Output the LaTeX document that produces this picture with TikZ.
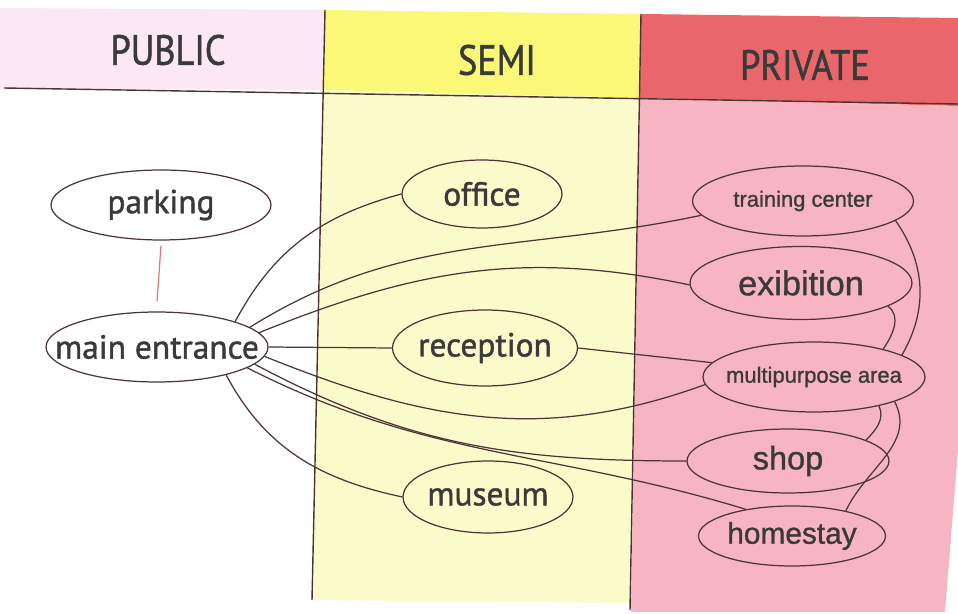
\documentclass[tikz,border=0pt]{standalone}
\usepackage{fontspec}
\setmainfont{PT Sans}[FakeBold=1.3]
\newfontfamily\privfont{Liberation Sans}[FakeBold=1.1]
\newfontfamily\headfont{PT Sans}[FakeStretch=0.86, FakeBold=1.2]
\usetikzlibrary{shapes.geometric}

\definecolor{pubhead}{HTML}{FCE7F4}
\definecolor{semihead}{HTML}{FBF878}
\definecolor{semibody}{HTML}{FBFACB}
\definecolor{privhead}{HTML}{E9676B}
\definecolor{privbody}{HTML}{F7B5C3}
\definecolor{linebrown}{HTML}{4C3434}
\definecolor{txtgray}{HTML}{3A3A3A}
\definecolor{softred}{HTML}{E07878}

\newcommand{\zonefont}{\fontsize{19}{22}\selectfont}
% label that does not widen its ellipse
\newcommand{\lbl}[1]{\makebox[0pt]{#1}}

\tikzset{
    space/.style={ellipse, draw=linebrown, line width=0.7pt, inner sep=0pt,
        text=txtgray, font=\zonefont},
    link/.style={draw=linebrown, line width=0.7pt},
    header/.style={text=txtgray, font=\headfont\fontsize{24}{27}\selectfont}
}

\begin{document}
\begin{tikzpicture}[x=0.02cm, y=-0.02cm]
        \useasboundingbox (0,0) rectangle (958,614);

        % zone backgrounds
        \fill[pubhead] (0,8) -- (325,10) -- (324,90) -- (0,88) -- cycle;
        \fill[semihead] (325,10) -- (641,14) -- (640,98) -- (324,90) -- cycle;
        \fill[semibody] (324,90) -- (640,98) -- (631,603) -- (312,600) -- cycle;
        \fill[privhead] (641,14) -- (958,18) -- (958,106) -- (640,98) -- cycle;
        \fill[privbody] (640,98) -- (958,106) -- (958,450) -- (945,612) -- (631,612) -- cycle;

        % zone borders
        \draw[linebrown, line width=0.8pt] (4,88) -- (958,104);
        \draw[linebrown, line width=0.8pt] (325,10) -- (312,600);
        \draw[linebrown, line width=0.8pt] (641,14) -- (630,610);

        \node[header] (hpub) at (168,50) {PUBLIC};
        \node[header] (hsemi) at (497,60) {SEMI};
        \node[header] (hpriv) at (805,65) {PRIVATE};

        % public
        \node[space, minimum width=4.4cm, minimum height=1.4cm] (park) at (161,205) {\lbl{parking}};
        \node[space, minimum width=4.44cm, minimum height=1.4cm] (main) at (157,347) {\lbl{main entrance}};

        % semi
        \node[space, minimum width=3.2cm, minimum height=1.36cm] (office) at (482,194) {\lbl{office}};
        \node[space, minimum width=3.7cm, minimum height=1.52cm] (recep) at (485,348) {\lbl{reception}};
        \node[space, minimum width=3.4cm, minimum height=1.44cm] (museum) at (488,497) {\lbl{museum}};

        % private
        \node[space, minimum width=4.42cm, minimum height=1.4cm, font=\privfont\fontsize{12.5}{15}\selectfont]
            (train) at (803,201) {\lbl{training center}};
        \node[space, minimum width=4.44cm, minimum height=1.46cm, font=\privfont\fontsize{19.5}{22}\selectfont]
            (exib) at (801,283) {\lbl{exibition}};
        \node[space, minimum width=4.44cm, minimum height=1.4cm, font=\privfont\fontsize{12.5}{15}\selectfont]
            (multi) at (814,377) {\lbl{multipurpose area}};
        \node[space, minimum width=4.04cm, minimum height=1.28cm, font=\privfont\fontsize{18.5}{21}\selectfont]
            (shop) at (788,461) {\lbl{shop}};
        \node[space, minimum width=3.74cm, minimum height=1.2cm, font=\privfont\fontsize{17}{20}\selectfont]
            (home) at (792,536) {\lbl{homestay}};

        % connections
        \draw[softred, line width=0.7pt] ([yshift=-0.1cm]park.south) -- ([yshift=0.2cm]main.north);

        \draw[link] (main.18) to[out=62, in=195] (office.west);
        \draw[link] (main.12) to[out=32, in=192] (train.188);
        \draw[link] (main.8) to[out=22, in=168] (exib.181);
        \draw[link] (main.east) -- (recep.west);
        \draw[link] (recep.east) -- (multi.172);
        \draw[link] (main.-5) to[out=-22, in=200] (multi.184);
        \draw[link] (main.-10) to[out=-28, in=180] (shop.west);
        \draw[link] (main.-13) to[out=-27, in=163] (home.150);
        \draw[link] (main.-22) to[out=-62, in=168] (museum.west);

        \draw[link] (train.-12) to[out=-55, in=60] (multi.14);
        \draw[link] (exib.-15) to[out=-35, in=55] (multi.22);
        \draw[link] (multi.-24) to[out=-65, in=45] (shop.15);
        \draw[link] (multi.-17) to[out=-62, in=65] (home.25);

\end{tikzpicture}
\end{document}
